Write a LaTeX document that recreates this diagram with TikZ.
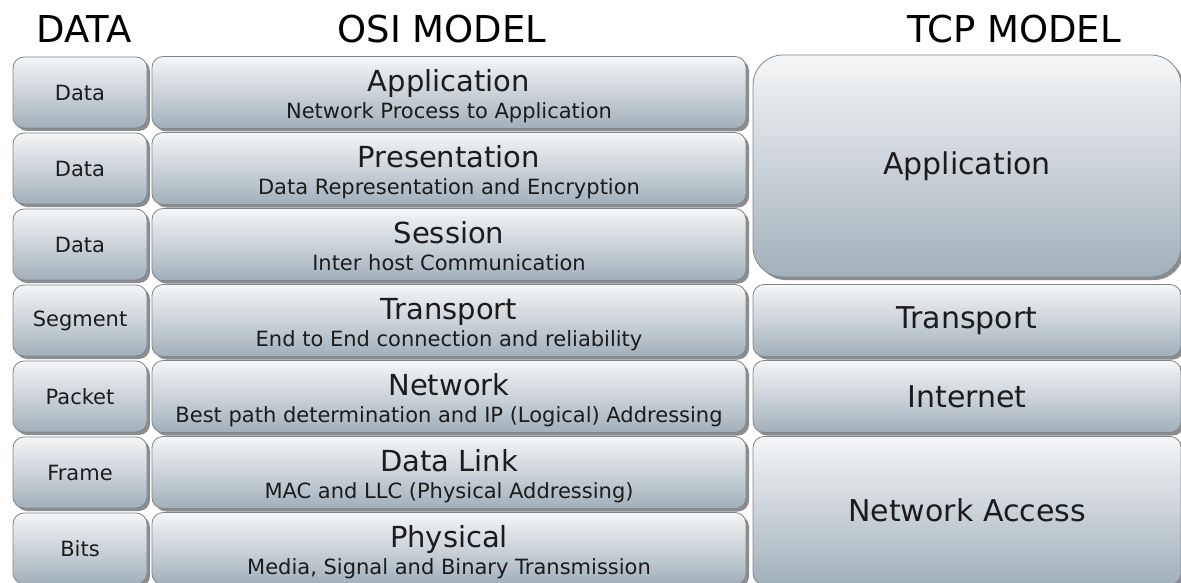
\documentclass[tikz,border=0pt]{standalone}
\usepackage{fontspec}
\setmainfont{DejaVu Sans}
\usepackage{xcolor}
\usetikzlibrary{shadows}

\definecolor{layertop}{HTML}{F5F6F7}
\definecolor{layerbot}{HTML}{A2B0BA}
\definecolor{layeredge}{HTML}{80878C}
\definecolor{ink}{HTML}{1C1C1C}

\newcommand\osisub{\fontsize{21}{27}\selectfont}

\tikzset{
    layer/.style = {draw=layeredge, line width=0.8pt, rounded corners=11pt,
                    top color=layertop, bottom color=layerbot, inner sep=0pt,
                    text=ink,
                    drop shadow={shadow xshift=3pt, shadow yshift=-3pt,
                                 fill=black, opacity=0.45}},
    unit/.style     = {layer, minimum width=134pt, minimum height=71pt,
                       font=\fontsize{21}{25}\selectfont},
    % the last line (subtitle) carries the baseline of the text box
    osilayer/.style = {layer, minimum width=594pt, minimum height=72pt,
                       align=center, text height=56pt, text depth=4pt,
                       font=\fontsize{29}{34}\selectfont},
    tcplayer/.style = {layer, minimum width=428pt,
                       font=\fontsize{30}{36}\selectfont},
    heading/.style  = {anchor=base, inner sep=0pt, text=black,
                       font=\fontsize{37}{44}\selectfont}
}

\begin{document}
\begin{tikzpicture}[x=1pt, y=-1pt]
    \fill[white] (0,0) rectangle (1181,583);
    \useasboundingbox (0,0) rectangle (1181,583);

    % headings
    \node[heading] (hdata) at (84,43)   {DATA};
    \node[heading] (hosi)  at (442,43)  {OSI MODEL};
    \node[heading] (htcp)  at (1014,43) {TCP MODEL};

    % data units
    \node[unit] (du1) at (80, 92.5)  {Data};
    \node[unit] (du2) at (80,168.5)  {Data};
    \node[unit] (du3) at (80,244.5)  {Data};
    \node[unit] (du4) at (80,320.5)  {Segment};
    \node[unit] (du5) at (80,396.5)  {Packet};
    \node[unit] (du6) at (80,472.5)  {Frame};
    \node[unit] (du7) at (80,548.5)  {Bits};

    % osi layers, 7 down to 1
    \node[osilayer] (osi7) at (449, 92.5) {Application\\[-7pt]\osisub Network Process to Application};
    \node[osilayer] (osi6) at (449,168.5) {Presentation\\[-7pt]\osisub Data Representation and Encryption};
    \node[osilayer] (osi5) at (449,244.5) {Session\\[-7pt]\osisub Inter host Communication};
    \node[osilayer] (osi4) at (449,320.5) {Transport\\[-7pt]\osisub End to End connection and reliability};
    \node[osilayer] (osi3) at (449,396.5) {Network\\[-7pt]\osisub Best path determination and IP (Logical) Addressing};
    \node[osilayer] (osi2) at (449,472.5) {Data Link\\[-7pt]\osisub MAC and LLC (Physical Addressing)};
    \node[osilayer] (osi1) at (449,548.5) {Physical\\[-7pt]\osisub Media, Signal and Binary Transmission};

    % tcp layers
    \node[tcplayer, minimum height=222pt, rounded corners=30pt] (tcp4) at (967,166)   {Application};
    \node[tcplayer, minimum height=72pt]  (tcp3) at (967,320.5) {Transport};
    \node[tcplayer, minimum height=72pt]  (tcp2) at (967,396.5) {Internet};
    \node[tcplayer, minimum height=148pt] (tcp1) at (967,510.5) {Network Access};
\end{tikzpicture}
\end{document}
